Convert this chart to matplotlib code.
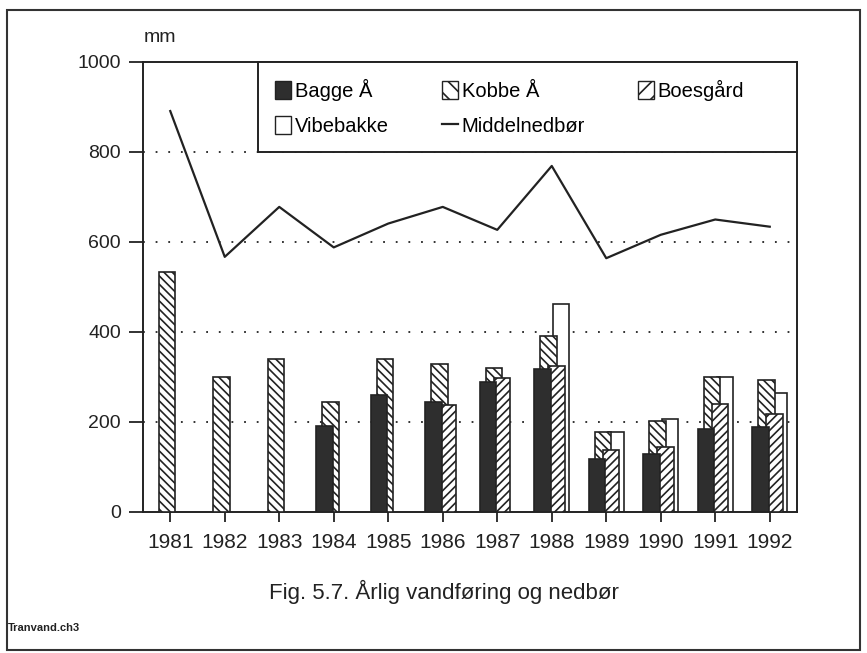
import numpy as np
import matplotlib
matplotlib.use("Agg")
import matplotlib.pyplot as plt
from matplotlib.patches import Rectangle
from matplotlib.lines import Line2D

plt.rcParams['font.family'] = ['Liberation Sans', 'DejaVu Sans']
plt.rcParams['hatch.linewidth'] = 1.2
plt.rcParams['hatch.color'] = '#222222'

# Data (mm per year)
years = ['1981', '1982', '1983', '1984', '1985', '1986',
         '1987', '1988', '1989', '1990', '1991', '1992']
bagge = [None, None, None, 192, 260, 244, 288, 317, 118, 128, 184, 189]
kobbe = [534, 301, 340, 244, 340, 328, 320, 392, 177, 203, 299, 293]
boesgaard = [None, None, None, None, None, 238, 297, 325, 138, 144, 240, 217]
vibebakke = [None, None, None, None, None, None, None, 462, 178, 206, 299, 264]
middel = [891, 567, 678, 588, 641, 678, 627, 769, 564, 616, 650, 634]

fig = plt.figure(figsize=(8.67, 6.53), dpi=100)
ax = fig.add_axes([143 / 867, 1 - 512 / 653, 654 / 867, 450 / 653])

x = np.arange(len(years))
w = 0.3
HATCH_K = '\\\\\\\\'
HATCH_B = '////'


def draw(vals, offset, z, **kw):
    idx = [i for i, v in enumerate(vals) if v is not None]
    ax.bar(x[idx] + offset, [vals[i] for i in idx], width=w, zorder=z,
           edgecolor='#222222', linewidth=1.2, **kw)


# back to front: Vibebakke, Kobbe, Boesgaard, Bagge
draw(vibebakke, 0.175, 2, color='white')
draw(kobbe, -0.06, 3, color='white', hatch=HATCH_K)
draw(boesgaard, 0.09, 4, color='white', hatch=HATCH_B)
draw(bagge, -0.17, 5, color='#2e2e2e')

ax.plot(x, middel, color='#222222', linewidth=1.6, zorder=6)

ax.set_xlim(-0.5, 11.5)
ax.set_ylim(0, 1000)
ax.set_yticks([0, 200, 400, 600, 800, 1000])
ax.set_xticks(x)
ax.set_xticklabels(years)
for yv in [200, 400, 600, 800]:
    ax.axhline(yv, color='#222222', linestyle=(0, (1, 6)), linewidth=1.3, zorder=1)

ax.tick_params(axis='y', length=10, width=1.3, pad=6, labelsize=14, colors='#222222')
ax.tick_params(axis='x', length=7, width=1.3, pad=8, labelsize=15, colors='#222222')
for s in ax.spines.values():
    s.set_linewidth(1.4)
    s.set_color('#222222')

# legend box spans from the 800 line to the top, from x~258 px to the right spine
ax.add_patch(Rectangle((0.176, 0.8), 0.824, 0.2, transform=ax.transAxes,
                       facecolor='white', edgecolor='#222222', linewidth=1.4,
                       zorder=9, clip_on=False))

handles = [
    Rectangle((0, 0), 1, 1, facecolor='#2e2e2e', edgecolor='#222222', linewidth=1.0),
    Rectangle((0, 0), 1, 1, facecolor='white', edgecolor='#222222', linewidth=1.0),
    Rectangle((0, 0), 1, 1, facecolor='white', edgecolor='#222222', linewidth=1.0, hatch='\\\\'),
    Line2D([0], [0], color='#222222', linewidth=1.6),
    Rectangle((0, 0), 1, 1, facecolor='white', edgecolor='#222222', linewidth=1.0, hatch='//'),
]
labels = ['Bagge Å', 'Vibebakke', 'Kobbe Å', 'Middelnedbør', 'Boesgård']
leg = ax.legend(handles, labels, ncol=3, loc='upper left',
                bbox_to_anchor=(0.176, 1.0), frameon=False,
                borderaxespad=0, fontsize=14.5, handlelength=0.8, handleheight=1.0,
                handletextpad=0.2, borderpad=0.85, labelspacing=0.75,
                columnspacing=2.6)
leg.set_zorder(10)

fig.text(160 / 867, 1 - 37 / 653, 'mm', fontsize=14, ha='center', va='center', color='#222222')
fig.text(444 / 867, 1 - 592 / 653, 'Fig. 5.7. Årlig vandføring og nedbør',
         fontsize=16, ha='center', va='center', color='#222222')
fig.text(8 / 867, 1 - 628 / 653, 'Tranvand.ch3', fontsize=8, fontweight='bold',
         ha='left', va='center', color='#222222')

fig.patches.append(Rectangle((7 / 867, 3 / 653), 853 / 867, 640 / 653,
                             transform=fig.transFigure, fill=False,
                             edgecolor='#333333', linewidth=1.5))

fig.savefig('out.png', dpi=100)
